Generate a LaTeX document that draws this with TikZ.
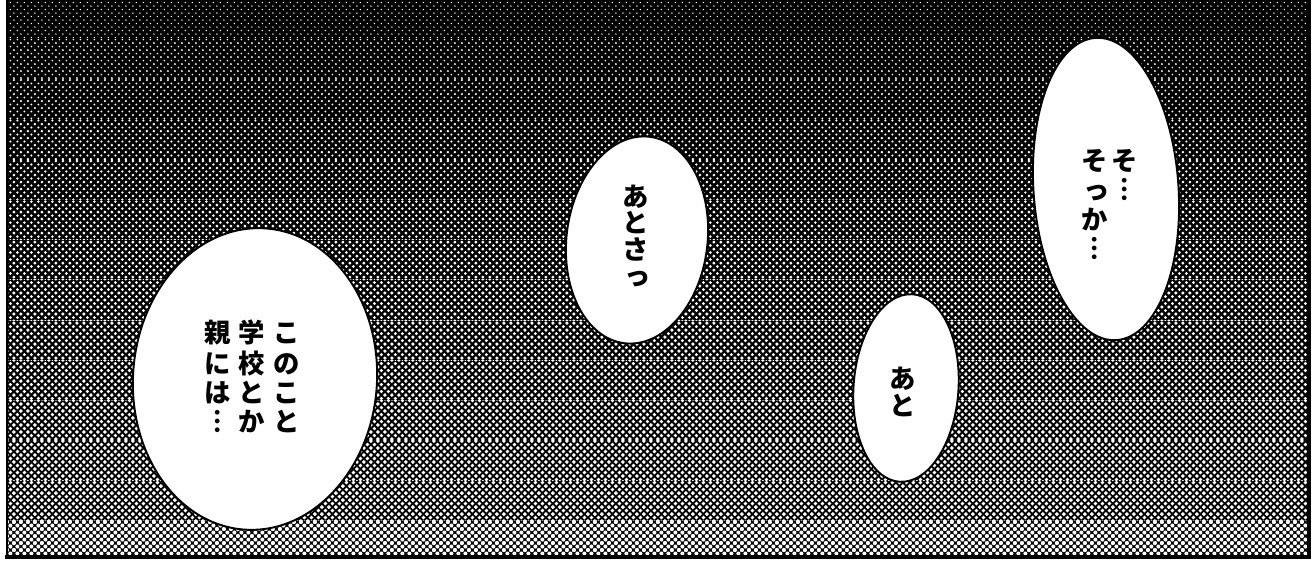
\documentclass[tikz,border=0pt]{standalone}
\usepackage{fontspec}
\newfontfamily\jpv{Noto Sans CJK JP}
\usetikzlibrary{shapes.geometric,patterns}
% halftone tones: white dot radius, 4.2pt screen
\newcommand\maketone[2]{%
  \pgfdeclarepatternformonly{#1}{\pgfpointorigin}{\pgfqpoint{4.2pt}{4.2pt}}{\pgfqpoint{4.2pt}{4.2pt}}{%
    \pgfpathcircle{\pgfqpoint{0pt}{0pt}}{#2}%
    \pgfpathcircle{\pgfqpoint{4.2pt}{0pt}}{#2}%
    \pgfpathcircle{\pgfqpoint{0pt}{4.2pt}}{#2}%
    \pgfpathcircle{\pgfqpoint{4.2pt}{4.2pt}}{#2}%
    \pgfpathcircle{\pgfqpoint{2.1pt}{2.1pt}}{#2}%
    \pgfusepath{fill}}}
\maketone{tone0}{0.44pt}
\maketone{tone1}{0.55pt}
\maketone{tone2}{0.64pt}
\maketone{tone3}{0.72pt}
\maketone{tone4}{0.79pt}
\maketone{tone5}{0.85pt}
\maketone{tone6}{0.91pt}
\maketone{tone7}{0.97pt}
\maketone{tone8}{1.02pt}
\maketone{tone9}{1.07pt}
\maketone{tone10}{1.12pt}
\maketone{tone11}{1.17pt}
\maketone{tone12}{1.21pt}
\maketone{tone13}{1.26pt}
\newcommand\vsmall[1]{\hspace{0.16em}#1}
\tikzset{
  balloon/.style={ellipse, draw=black, fill=white, line width=1.1pt, inner sep=0pt},
  serif/.style={font=\jpv\bfseries\fontsize{15}{15.1}\selectfont, align=center, inner sep=0pt},
}

\begin{document}
\begin{tikzpicture}[x=0.02cm, y=-0.02cm]
  \useasboundingbox (0,0) rectangle (1315,564);
  % screentone panel
  \fill[black] (7,0) rectangle (1309,557);
  \foreach \k in {0,...,13}
    \fill[pattern=tone\k, pattern color=white] (7,\k*40) rectangle (1309,{min(\k*40+40,557)});
  \draw[line width=0.6pt] (7,0) -- (7,557);
  \draw[line width=2.2pt] (5,557) -- (1309,557) -- (1309,0);

  % balloons
  \node[balloon, minimum width=4.88cm, minimum height=6.04cm, rotate=-4] (kono) at (255,379) {};
  \node[balloon, minimum width=2.82cm, minimum height=4.16cm, rotate=-7] (atosa) at (637,240) {};
  \node[balloon, minimum width=2.1cm, minimum height=3.76cm, rotate=-4] (ato) at (906,388) {};
  \node[balloon, minimum width=2.9cm, minimum height=6.06cm, rotate=4] (sokka) at (1106,189) {};

  % texts
  \node[serif] (konotext) at (252,380) {\begin{tabular}{@{}c@{\hspace{4.5pt}}c@{\hspace{4.5pt}}c@{}}
    親&学&こ\\ に&校&の\\ は&と&こ\\ ︙&か&と
  \end{tabular}};
  \node[serif] (atosatext) at (636,236) {あ\\と\\さ\\\vsmall{っ}};
  \node[serif] (atotext) at (903,392) {あ\\と};
  \node[serif] (sokkatext) at (1109,208) {\begin{tabular}[t]{@{}c@{\hspace{1pt}}c@{}}
    そ&そ\\ \vsmall{っ}&︙\\ か&\\ ︙&
  \end{tabular}};
\end{tikzpicture}
\end{document}
